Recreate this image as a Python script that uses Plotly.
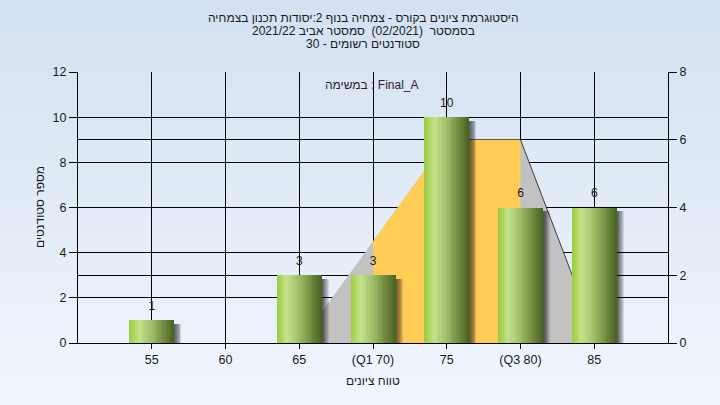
import plotly.graph_objects as go

# ---- data ----
grades = [55, 60, 65, 70, 75, 80, 85]
tick_labels = ["55", "60", "65", "(Q1 70)", "75", "(Q3 80)", "85"]
counts = [1, 0, 3, 3, 10, 6, 6]
curve_x = [55, 60, 65, 70, 75, 80, 85]
curve_y = [0, 0, 0, 3, 6, 6, 0.3]
iqr_x = [70, 75, 80]
iqr_y = [3, 6, 6]

title_lines = [
    "היסטוגרמת ציונים בקורס - צמחיה בנוף 2:יסודות תכנון בצמחיה",
    "בסמסטר  (02/2021)  סמסטר אביב 2021/22",
    "סטודנטים רשומים - 30",
]
task_label = "במשימה : Final_A"
x_title = "טווח ציונים"
y_title = "מספר סטודנטים"

FONT = "Liberation Sans, Arial, sans-serif"
TXT = "#1a1a1a"

fig = go.Figure()

# distribution curve (light grey area) and IQR (yellow)
fig.add_trace(go.Scatter(x=curve_x, y=curve_y, mode="lines", fill="tozeroy",
                         fillcolor="#c2c2c2", line=dict(width=0, color="#c2c2c2"),
                         yaxis="y", hoverinfo="skip", showlegend=False))
fig.add_trace(go.Scatter(x=iqr_x, y=iqr_y, mode="lines", fill="tozeroy",
                         fillcolor="#ffcc55", line=dict(width=0, color="#ffcc55"),
                         yaxis="y", hoverinfo="skip", showlegend=False))
fig.add_trace(go.Scatter(x=curve_x[5:], y=curve_y[5:], mode="lines",
                         line=dict(width=1, color="#3a3a3a"),
                         yaxis="y", hoverinfo="skip", showlegend=False))

W = 3.05
# bar shadows (soft, to the right)
shadow_y = [max(v - 0.15, 0) for v in counts]
for k in range(1, 9):
    fig.add_trace(go.Bar(x=grades, y=shadow_y, width=W, offset=-W / 2 + 0.06 * k,
                         marker=dict(color="rgba(25,25,25,0.12)", line=dict(width=0)),
                         yaxis="y2", hoverinfo="skip", showlegend=False))

# cylindrical gradient bars
stops = [(0.0, (155, 204, 62)), (0.22, (198, 226, 138)), (0.5, (160, 188, 105)),
         (0.75, (115, 142, 65)), (1.0, (72, 96, 32))]


def grad(t):
    for (t0, c0), (t1, c1) in zip(stops[:-1], stops[1:]):
        if t0 <= t <= t1:
            f = (t - t0) / (t1 - t0)
            return "rgb(%d,%d,%d)" % tuple(round(a + (b - a) * f) for a, b in zip(c0, c1))
    return "rgb(%d,%d,%d)" % stops[-1][1]


N = 24
for i in range(N):
    t = (i + 0.5) / N
    fig.add_trace(go.Bar(x=grades, y=counts, width=W / N * 1.08,
                         offset=-W / 2 + i * W / N,
                         marker=dict(color=grad(t), line=dict(width=0)),
                         yaxis="y2", hoverinfo="skip", showlegend=False))

fig.add_trace(go.Scatter(x=grades, y=counts, mode="markers+text",
                         marker=dict(size=10, opacity=0),
                         text=[str(v) if v else "" for v in counts],
                         textposition="top center",
                         textfont=dict(family=FONT, size=12, color=TXT),
                         yaxis="y2", hoverinfo="skip", showlegend=False, cliponaxis=False))

# background gradient bands
shapes = []
NB = 40
x0p, x1p = -78 / 590, (720 - 78) / 590
y0p, y1p = -62 / 271, (405 - 62) / 271
top, bot = (212, 225, 242), (239, 246, 253)
for j in range(NB):
    f = j / (NB - 1)
    col = tuple(round(a + (b - a) * f) for a, b in zip(top, bot))
    ya = y1p - (y1p - y0p) * j / NB
    yb = y1p - (y1p - y0p) * (j + 1) / NB
    shapes.append(dict(type="rect", xref="paper", yref="paper", x0=x0p, x1=x1p,
                       y0=yb - 0.002, y1=ya + 0.002, layer="below",
                       fillcolor="rgb(%d,%d,%d)" % col, line=dict(width=0)))

annotations = []
for txt, ypx in zip(title_lines, [18, 31, 44]):
    annotations.append(dict(text=txt, xref="paper", yref="paper",
                            x=(363 - 78) / 590, y=(343 - ypx) / 271,
                            xanchor="center", yanchor="middle", showarrow=False,
                            font=dict(family=FONT, size=12, color=TXT)))
annotations.append(dict(text=task_label, xref="paper", yref="paper",
                        x=(372 - 78) / 590, y=(343 - 85) / 271,
                        xanchor="center", yanchor="middle", showarrow=False,
                        font=dict(family=FONT, size=12, color="#2a1a3a")))
annotations.append(dict(text=x_title, xref="paper", yref="paper",
                        x=(373 - 78) / 590, y=(343 - 381) / 271,
                        xanchor="center", yanchor="middle", showarrow=False,
                        font=dict(family=FONT, size=12, color=TXT)))
annotations.append(dict(text=y_title, xref="paper", yref="paper",
                        x=(40 - 78) / 590, y=(343 - 207) / 271, textangle=-90,
                        xanchor="center", yanchor="middle", showarrow=False,
                        font=dict(family=FONT, size=12, color=TXT)))

axis_common = dict(showgrid=True, gridcolor="black", gridwidth=1, zeroline=False,
                   showline=True, linecolor="black", linewidth=1,
                   ticks="outside", tickcolor="black",
                   tickfont=dict(family=FONT, size=12.5, color=TXT))

fig.update_layout(
    width=720, height=405,
    margin=dict(l=78, r=52, t=72, b=62),
    paper_bgcolor="#e0ebf8",
    plot_bgcolor="#b4b4b4",
    barmode="overlay",
    bargap=0,
    showlegend=False,
    hovermode=False,
    shapes=shapes,
    annotations=annotations,
    xaxis=dict(range=[50, 90], tickvals=grades, ticktext=tick_labels, ticklen=5,
               **axis_common),
    yaxis=dict(range=[0, 8], dtick=2, side="right", ticklen=8, **axis_common),
    yaxis2=dict(range=[0, 12], dtick=2, side="left", overlaying="y", ticklen=8,
                **axis_common),
)

fig.write_html("out.html", config={"displayModeBar": False, "staticPlot": True},
               post_script="document.body.style.margin='0px';document.body.style.overflow='hidden';")
